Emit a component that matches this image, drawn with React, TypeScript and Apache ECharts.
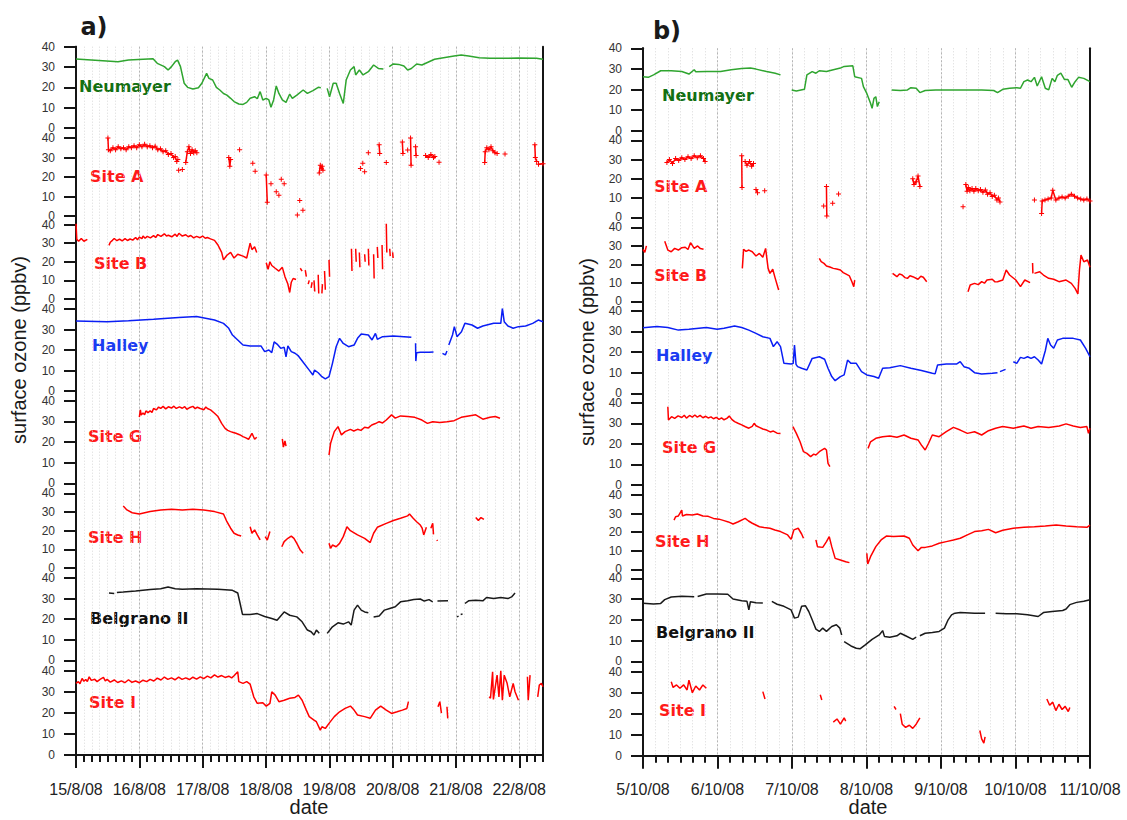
import { useEffect, useRef } from "react";
import * as echarts from "echarts";

type Pt = number[] | null;

// ---------- Panel a) : hours since 15/8/08 00:00 ----------
const A_MAX_H = 177;
const A_STEP_H = 3;
const A_DAY_LABELS = ["15/8/08", "16/8/08", "17/8/08", "18/8/08", "19/8/08", "20/8/08", "21/8/08", "22/8/08"];

const aNeumayer: Pt[] = [[0,33.9],[15.9,32.6],[19.9,33.4],[29.2,34.1],[30.8,31.8],[33.5,30.2],[34.9,28.5],[36.2,30.2],[37.6,32.6],[38.5,33.4],[39.6,30.2],[41,22],[42.3,20],[44.3,19.2],[46.4,19.8],[47.7,22],[49.5,26.9],[50.4,24.4],[51.8,23.6],[53.2,20],[54.5,18.7],[55.9,17],[57.2,16.2],[58.6,14.6],[59.9,13],[61.7,11.8],[63.3,11.6],[64.7,12.6],[66,14.6],[67.7,15.4],[68.7,14.4],[69.8,17.9],[70.8,13.8],[72.1,14.6],[73.1,13.8],[73.9,10.2],[74.9,13.8],[75.9,20.7],[76.9,17],[78.2,13.8],[79.6,12.6],[81,16.7],[82,14.6],[83.7,16.2],[86.1,18.7],[87.7,17],[89.8,18.4],[91.8,20],[92.8,19.8],null,[95.2,19.5],[96.1,15.4],[97.5,22],[98.6,22],[99.9,17],[101.3,12.1],[102.4,23.6],[104,28.5],[105.4,30.2],[106,26.1],[107.4,28.5],[108.8,26.1],[110.8,27.7],[112.8,31],[114.6,29.3],[116.5,29],null,[118.7,30.2],[120.3,31.5],[122.3,31.3],[124.3,30.5],[125.7,28.5],[127.1,29.3],[129.1,31.5],[131.1,31],[133.8,32.6],[135.9,33.8],[139.3,34.6],[143.3,35.4],[146,35.9],[148.8,35.4],[152.8,34.6],[156.9,34.3],[161,34.3],[167.7,34.4],[174.5,34.3],[177,33.8]];

const aSiteA: Pt[] = [[12.1,40],[12.3,34],[13,33.5],[14,35],[15,34],[16,35.5],[17,34.5],[18,35],[19,34],[20,35.5],[21,35],[22,36],[23,35],[24,36.5],[25,35.5],[26,36.8],[27,35.5],[28,36],[29,35],[30,35.8],[31,34],[32,34.5],[33,33],[34,33.5],[35,31.5],[36,32],[37,30],[37.6,30.5],[38.2,28],[38.6,29],null,[38.9,23.5],null,[40.3,23.8],null,[41.6,27.5],[42.2,33],[42.8,35.5],[43.4,32],[44,34],[44.6,32.5],[45.2,33.5],[45.8,32.5],null,[57.9,30],[58.3,25.5],[58.6,29],null,[62,34],null,[67,27.1],null,[67.9,23],null,[72.1,21],[72.5,7],null,[73.9,16.6],null,[75.9,12.5],null,[76.9,10.6],null,[77.8,18.9],null,[78.9,16.6],null,[83.9,0.5],null,[84.8,8],null,[86,2.9],null,[92.2,22],[92.6,26],[93,24.5],[93.3,25.5],[93.6,23.5],null,[107.8,24.4],null,[108.7,27],null,[109.4,22.7],null,[110.8,32.5],null,[114.9,36.5],[115.1,32],null,[117.6,27.5],null,[123.7,38],[123.9,32],null,[125.7,33.8],null,[126.8,40],[127,26],null,[128.7,35.5],[128.9,31],null,[132.5,31],[133.5,30],[134.5,31.5],[135.5,30],[136,30.5],null,[137.6,27.6],null,[154.9,27.5],[155.1,33],[155.7,35],[156.5,34],[157.3,35.5],[158,33.5],[158.8,32.5],[159.6,32],null,[162.6,31.8],null,[173.9,36.5],[174.1,30],[174.6,28],null,[175.3,26.5],[177,26.8]];

const aSiteB: Pt[] = [[0,41],[0.3,32],[1,31],[2,32.5],[3,31],[4.3,32],null,[12.5,28.8],[13,30.5],[13.8,31.5],[14.5,32.5],[15.5,31.3],[16.5,32.2],[17.5,31.2],[18.6,32.4],[19.5,31.4],[20.5,32.2],[21.5,31.6],[22.6,33],[23.3,31.8],[24,33.2],[25,32.4],[25.4,33.8],[26.2,32.6],[27,33.6],[28.2,32.8],[29.4,34],[30.2,33],[31,34.6],[32.2,33.6],[33.5,35],[34.3,33.8],[35,34.2],[36.3,33.4],[37.6,34.8],[38.3,33.6],[39,35.3],[40.3,33.8],[41.6,34.5],[42.5,33.4],[43.5,34.1],[44.6,32.8],[45.7,33.6],[47,32.9],[48,33.8],[49,32.6],[49.8,33],[51,32.3],[52.5,31.5],[53.8,29],[55.2,25],[55.9,21],[57.2,23.5],[58.6,25],[59.9,22],[61.3,24],[63.3,23],[64.7,22],[66,30],[66.7,26.5],[67.7,28],[68.5,25],null,[72.1,19.5],[72.8,16],[73.5,20],[74.2,18],[75.5,16.5],[76.9,15],[78.2,17],[79.2,12],[80.3,8],[81,3.5],[81.6,9],[82.3,11],[83.4,10.5],null,[85,16.5],[85.7,15],null,[86.9,15.5],[87.3,12],null,[88,8],[88.4,10],null,[89.1,6],[89.5,9],null,[90.2,10],[90.5,4],null,[91.8,13],[92,3],null,[93.2,3],[93.4,8],null,[94.2,15],[94.5,5],null,[95.9,21],[96.1,12],null,[104.4,27],[104.6,15],null,[106,27],[106.2,20],null,[107.4,25],[107.6,17],null,[109.4,24],[109.6,20],null,[110.8,27],[111,18],null,[112.8,24],[113,11],null,[114.2,28],[114.4,22],null,[116,29],[116.2,16],null,[117.6,41],[117.8,25],null,[118.9,27],[119.1,23],null,[120,25],[120.2,22]];

const aHalley: Pt[] = [[0,34.1],[11.8,33.8],[19.9,34.3],[29.4,35],[38.9,35.9],[45.7,36.3],[52.5,34.6],[55.9,33],[57.9,30.6],[59.3,27.3],[61.3,24.9],[63.3,22.4],[66,22],[70.1,22],[71.5,19.2],[73.1,20],[74.2,18.7],[75.1,24],[76.2,22.9],[77.6,20.8],[78.9,21.3],[79.6,16.7],[80.3,22],[81.6,19.2],[83,18.4],[84.3,17.1],[86.4,13.5],[88.4,10.2],[89.8,7.8],[90.4,10.2],[91.8,8.9],[93.2,7],[94.5,5.9],[95.9,7],[97.2,13.5],[98.6,21.6],[99.9,25.7],[101.3,23.2],[103.3,21.6],[105.4,22.4],[106.7,25.7],[108.1,27.8],[110.8,27.3],[112.2,24.9],[113.5,28.1],[114.2,25.2],[116.2,26.5],[120.3,26.8],[124.3,26.5],[127.1,26.2],null,[128.1,29.8],[128.2,29.5],null,[128.7,23.3],[128.8,14.6],[129.1,18.7],[130.5,18.9],[133.8,18.9],[135.5,19],null,[138.9,18.4],[140,17.6],[140.6,19.5],null,[141.3,22.4],[142.7,27.3],[143.4,31.4],[144.4,26.5],[146.1,28.9],[147.4,33],[150.1,32.2],[152.2,30.6],[154.2,31.7],[158.3,33],[161,33],[161.6,40.3],[162.3,33.8],[163.7,31.7],[165.7,30.6],[167.7,31.4],[170.4,31.7],[173.1,33],[175.2,34.6],[177,33.8]];

const aSiteG: Pt[] = [[24,32],[24.4,35.5],[24.7,33],[25.4,34],[26,33.2],[26.5,35],[27.3,34.2],[28.1,35],[28.8,34.3],[29.4,36.2],[30.5,35.5],[31.3,36.9],[32.1,36.2],[33,37.2],[34,36],[35,37],[36.2,36.4],[37.1,37.3],[38,36.2],[39.2,37],[40.3,36.3],[41.2,37.1],[42,35.8],[43.2,36.7],[44.3,37.2],[45.2,36.1],[46,36.8],[47.1,36.2],[48.5,35.6],[49.2,36.9],[49.8,36.2],[51,35.5],[52.5,33.9],[53.8,32.3],[55.2,29],[56.5,26.6],[57.5,25.6],[58.6,25],[59.6,24.6],[60.6,24.2],[62,23.5],[63.3,22.6],[64.4,22],[65.4,21.3],[66.7,24.2],[67.7,21.3],[68.5,22.3],null,[78.2,21.5],[78.6,17.5],[79.2,20.5],[79.6,18],null,[95.9,13.7],[96.5,19.4],[97.9,25],[99.3,27.4],[100.6,23.4],[102,25],[104,26.1],[105.3,25.3],[106.7,26.1],[108,25.6],[109.4,27.1],[110.8,26.8],[112.1,28.2],[113.5,28.9],[114.9,29.8],[116.2,29.2],[117.6,30.6],[119.6,33.1],[121,31.5],[123,32.6],[125.7,32.3],[128.4,31.9],[131.1,30.6],[133.2,29],[135.2,29.8],[137.9,29.4],[140.6,29.8],[143.3,30.3],[146,31.9],[148.8,32.6],[151.5,33.1],[154.2,31],[156.9,31.9],[158.9,32.3],[160.7,31.5]];

const aSiteH: Pt[] = [[17.9,33.2],[19.3,31.1],[21.3,29.6],[24,28.9],[28.1,30.2],[32.1,31.1],[36.2,31.4],[40.3,31.1],[44.3,31.4],[48.4,31.1],[52.5,30.2],[55.9,28.9],[57.2,24.8],[58.6,21.3],[59.9,18.6],[61.3,17.7],[62.6,17.1],null,[66,22.1],[66.7,18.6],[67.7,20.4],[68.7,17.7],[69.8,15],null,[71.7,16.8],[72.5,15],[73.5,19.5],null,[78,11.4],[78.9,14.1],[80.3,15.9],[81.6,17.1],[82.6,15.9],[83.7,13.2],[85,9.6],[86.1,7.9],null,[95.9,13.2],[96.5,10.5],[97.2,12.3],[98.6,11.4],[99.9,13.2],[101.3,16.8],[102.7,22.1],[104,20],[106.7,17.7],[109.4,15.9],[111.5,13.6],[112.8,18.6],[114.2,21.8],[117.6,23.9],[120.3,25.4],[123,26.6],[125.7,27.9],[126.4,28.9],[127.8,26.6],[129.1,24.8],[130.5,23],[131.2,21.3],[131.8,17.7],[132.8,21.8],null,[134.5,21.3],[135.2,23.9],[135.5,18],null,[136.8,15],[137,14.5],null,[151.5,27],[152.5,25.5],[153.5,27],[154.6,26]];

const aBelgrano: Pt[] = [[12.5,32.7],[14.5,32.5],null,[15.5,33],[17.9,33.2],[22.6,33.7],[28.1,34.4],[32.1,34.8],[34.9,35.6],[37.6,34.8],[40.3,34.5],[45.7,34.8],[49.8,34.7],[53.8,34.5],[59.3,34],[61.3,32.7],[62.2,27.6],[63.1,22.3],[66,22.3],[68.7,22.7],[71.5,21.3],[74.2,20.3],[76.2,19.5],[78.9,23.5],[81,21.9],[83.7,21.1],[85.7,18.7],[87.7,14.7],[89.1,13.9],[90.2,12.3],[91.1,14.7],[92.2,13.1],null,[95.2,13.1],[97.2,16.3],[99.3,18.2],[101.3,17.6],[103.3,18.7],[104.3,17.1],[105.4,24.4],[106.7,26.8],[108.1,24.4],[109.4,23.5],[110.8,23.1],null,[112.8,21.1],[114.9,21.5],[116.9,24.4],[118.9,25.2],[121,26],[123,28.4],[125.7,28.9],[128,29.5],[130.5,29.8],[132,28.8],[133.8,29.5],[135.2,28.4],null,[137,28.8],[141,28.9],null,[144.4,21.1],[145,21.5],null,[145.8,22.3],[146.5,22.5],null,[147.4,27.6],[148.8,28.9],[151.5,29.2],[154.2,28.9],[155.6,30.5],[158.3,30],[161,30.5],[163.7,30],[165.1,30.8],[166.4,32.7]];

const aSiteI: Pt[] = [[0,34],[0.9,34.8],[1.5,33.8],[2.3,36.3],[3,35],[3.7,35.8],[4.3,34.9],[5,37.1],[5.8,35.4],[7.1,35.9],[8,34.8],[9.1,35.9],[10.4,36.8],[11.1,35.2],[11.8,35.9],[13,34.6],[14.5,35.6],[15.8,34.4],[17.2,35.2],[18.5,34.3],[19.9,35.7],[21.2,34.5],[22.6,35.1],[24,34.3],[25.4,35.5],[26.8,34.8],[28.1,35.9],[29.5,35.1],[30.8,36.5],[32.2,35.6],[33.5,37],[34.8,35.9],[36.2,36.6],[37.5,35.7],[38.9,36.9],[40.2,35.9],[41.6,36.6],[43,35.8],[44.3,36.9],[45.7,36],[47.1,37.1],[48.4,36.2],[49.8,37.4],[51.1,36.6],[52.5,38],[53.8,37],[55.2,37.7],[56.5,36.8],[57.9,37.4],[59,36.6],[59.9,37.6],[61.3,39.5],[61.7,34.8],[63.3,34],[64.7,34.8],[66,33.6],[67.4,27.5],[68.7,24.5],[70.8,24.8],[72.1,23.2],[73.5,24.5],[74.2,30],[75.5,28.4],[76.9,25.3],[78.9,26],[81,26.9],[83,27.3],[84.3,28.4],[85.7,26],[87.3,21.3],[88.4,18.2],[90.2,16.6],[91.1,15.8],[92.6,11.8],[93.2,13.4],[94.5,12.6],[95.9,15],[97.9,18.2],[99.9,20.5],[102,22.1],[104,23.2],[105.4,21.3],[106.7,19],[109.4,18.2],[111.5,17.4],[113.5,21.3],[115.5,23.2],[117.6,21.3],[119.6,19.7],[121.7,20.5],[123.7,21.3],[125.4,22.1],[126,25.3],null,[137.2,22.9],[137.9,25.3],[138.5,19.9],null,[140.6,22.9],[140.9,17.4],null,[156.6,27.6],[157.1,26.9],[157.9,39.5],[158.2,26.4],[159.6,37.9],[160.3,27.6],[161,40],[161.6,26],[162.3,37.9],[163.4,34],[164.4,27.6],[165.7,34],[166.4,30],[167.7,26],null,[171.1,37.1],[171.4,26],[172.1,37.9],null,[175,27.6],[175.6,33.2],[176.4,34],[177,32.4]];

// ---------- Panel b) : hours since 5/10/08 00:00 ----------
const B_MAX_H = 144;
const B_STEP_H = 4;
const B_DAY_LABELS = ["5/10/08", "6/10/08", "7/10/08", "8/10/08", "9/10/08", "10/10/08", "11/10/08"];

const bNeumayer: Pt[] = [[0,26.2],[1.7,25.9],[3.4,27.1],[5.7,29.1],[9.1,29.1],[12.5,28.7],[14.8,27.5],[16.5,29.6],[17,28.6],[20.4,28.7],[25,28.7],[28.4,29.6],[31.8,30.2],[34.6,30.4],[36.4,29.9],[39.8,28.7],[42.6,27.9],[44.3,27.1],null,[47.9,19.8],[49.4,19.3],[52,20.1],[52.8,27.1],[54.5,28.7],[55.7,27.9],[56.8,29.1],[59.1,28.7],[61.3,29.6],[63.6,30.4],[64.8,31.2],[67.6,31.5],[68.2,26.2],[70.4,25.4],[71,21.4],[72.1,18.1],[73.3,13.3],[73.8,10.9],[74.4,15.7],[75,16.5],[75.5,11.7],[76.1,14.1],null,[80.1,19.8],[82.9,19.5],[85.2,19.8],[86.3,20.9],[88,20.6],[89.2,18.5],[90.9,19.5],[94.3,19.8],[102.2,19.8],[109.1,19.8],[113,19.5],[114.2,18.5],[115.9,20.1],[118.1,20.6],[120.4,20.9],[121.6,20.6],[122.7,23.8],[123.9,24.6],[125,23.8],[126.1,25.9],[127,21.7],[128.4,26.2],[129.6,20.6],[130.7,19.8],[131.8,25.4],[132.7,23.8],[133.5,26.9],[134.6,27.9],[135.8,24.8],[136.9,24.8],[138.1,21.1],[139.2,23.8],[140.3,25.9],[142,25.4],[144,23.8]];

const bSiteA: Pt[] = [[7.7,28.5],[8.5,30],[9.5,28],[10.5,30.5],[11.5,29.5],[12.5,31],[13.5,30],[14.5,31.5],[15.5,30.5],[16.5,32],[17.5,31],[18.5,32],[19.5,30.5],[20,29],null,[31.8,32],[31.9,15.5],null,[32.9,29],[33.5,27],[34.3,29],[35,26.5],[35.6,28],null,[36.4,14.5],[36.9,12.8],null,[39.2,13.8],null,[58.2,5.9],null,[59.1,16],[59.2,0.7],null,[61.1,7.3],null,[63,12.1],null,[86.9,20],[87.3,17],[88,18.5],[88.6,21.5],[89.2,16],null,[103.1,5.5],null,[104,17],[104.4,13.5],[104.8,15.5],[105.3,13.8],[106,15],[106.6,13.5],[107.2,15],[108,13.8],[108.7,14.5],[109.5,13],[110.3,14.2],[111,12],[111.8,12.8],[112.5,10.8],[113.2,11.5],[114,9],[114.5,10],[115,8],null,[126.1,9],null,[128.4,2],[128.6,8.5],[129.5,9],[130.5,9.5],[131.5,10],[132,14],[133,9],[134,10],[135,10.5],[136,10],[137,11],[138,12],[139,11],[140,10],[141,9.5],[142,9],[143,9.5],[144,8.5]];

const bSiteB: Pt[] = [[0,28],[0.6,26.5],[1.1,30],null,[7,32.4],[8,27.7],[9.1,26.8],[10.2,28.6],[11.4,27.7],[12.5,29],[13.6,29.2],[14.5,28],[15.3,31.7],[16.5,28.6],[17.6,29.9],[18.5,28.5],[19.5,28.1],null,[32,17.8],[32.4,28.1],[33.2,27],[34.1,27.7],[35.2,26.8],[36.4,24.5],[37.5,25.9],[38.6,23.8],[39.5,28.6],[40.3,17.8],[40.9,15.1],[41.8,17.3],[42.6,12.4],[43.7,6.1],null,[56.8,23.2],[57.4,21.4],[58.3,20.5],[59.1,19.1],[60.2,18.5],[61.3,17.8],[62.4,17.5],[63.6,16.9],[64.5,15.5],[65.3,14.8],[66.5,13.7],[67.3,10.6],[67.9,7.9],[68.2,11.5],null,[80.4,15.1],[81.8,13.3],[82.6,14.8],[83.5,14.2],[84.4,12.8],[85.2,12.4],[86,13.8],[86.9,13.3],[88.6,11.9],[89.5,13.5],[90.3,13],[91.4,10.6],null,[104.7,5.2],[105.4,8.8],[106.8,9.7],[108,9],[109.1,10.6],[110,9.8],[110.8,11.5],[112.5,11.9],[113.4,10.5],[114.2,10.6],[115.9,11.5],[117,16.9],[118.1,14.2],[120.1,11.5],[121.6,7.9],[123,11.5],[124.7,10.1],null,[125.5,20.7],[125.6,15.1],null,[126.1,15.1],[127.8,16],[129,14.2],[130.7,12.4],[132.3,11.9],[134,10.6],[136.3,11.5],[138,9.7],[139.2,7],[140.1,4],[140.6,16.9],[141.1,25],[142,21.4],[143.2,22.3],[144,18.4]];

const bHalley: Pt[] = [[0,31.8],[4.5,32.3],[8,31.9],[11.4,30.6],[14.8,31],[20.4,31.9],[23.9,31],[26.1,31.5],[29.5,32.6],[31.8,31.9],[34.1,30.6],[36.4,29],[38.6,27.4],[40.9,26.6],[42,22.6],[43.2,25],[44.3,22.6],[45.4,14.5],[47.7,14.2],[48.4,14.5],[48.8,23.4],[49.3,14],[49.8,12.9],[51.1,12.1],[52.8,11.3],[54.5,16.9],[56.8,17.7],[58.5,16.5],[59.6,12.1],[60.8,8.1],[61.9,6.1],[63.6,8.1],[64.8,8.9],[65.9,16.1],[67,14.5],[68.7,14.5],[70.4,10.5],[72.1,8.9],[74.4,8.1],[75.9,7.3],[77.2,12.1],[79.5,12.4],[82.9,13.4],[86.3,12.1],[89.7,11],[93.2,9.7],[94.1,9.4],[94.9,13.7],[97.7,14.2],[101.1,14.2],[102.2,15.3],[103.4,12.9],[105.1,12.1],[106.8,10],[109.1,9.4],[112.5,9.7],[114.2,10],null,[115,10.5],[116.8,11.6],null,[119.3,15.3],[120.4,14.5],[121.6,17.4],[122.7,16.9],[123.9,17.7],[125,16.9],[126.1,17.7],[127.3,16.1],[128.4,14.2],[129.6,20.6],[130.4,26.6],[131.3,23.4],[132.3,21.8],[133.5,25.8],[135.2,26.6],[138.6,26.6],[140.9,25.8],[142.6,21.8],[144,17.7]];

const bSiteG: Pt[] = [[8,38],[8.2,31.6],[9.2,33.2],[10.2,32.4],[11.3,33.6],[12.5,32.8],[13.3,33.9],[14,32.5],[15,33.8],[15.9,33],[16.7,34],[17.5,33],[18.4,33.8],[19.3,32.7],[20.2,33.4],[21,32.6],[21.9,33.1],[22.7,32.2],[23.6,32.9],[24.5,31.9],[25.3,32.6],[26.1,31.7],[27,32.4],[27.8,33.5],[28.6,31.9],[29.5,30.8],[30.6,30],[31.8,29.2],[33,28.3],[34.1,27.6],[35.2,28.5],[35.8,30],[36.4,28.8],[37.5,28],[38.6,27.2],[39.8,26.7],[41,25.8],[42,26.2],[43.2,25.2],[44.3,25],null,[48.3,28.4],[49.4,25.1],[50.6,21],[51.7,16.2],[52.8,15.4],[54,13.8],[55,15],[55.7,14.6],[56.8,16.2],[58.5,17.8],[59.1,17],[59.6,10.5],[60.2,8.9],null,[72.5,17.8],[73.3,21],[75,22.7],[77.2,23.5],[79.5,23.8],[81.8,23.2],[84.1,24.3],[86.3,22.7],[88.6,21.9],[89.7,19.4],[90.9,17],[92,20.3],[93.2,24.3],[95.4,23.5],[97.7,25.9],[100,28],[102.2,26.7],[104.5,25.1],[106.8,25.9],[109.1,24.3],[111.3,26.4],[113.6,27.6],[115.9,28.4],[119.3,27.6],[122.7,28.7],[125,27.6],[127.3,28.4],[130.7,28],[134.1,28.7],[136.3,29.7],[138.6,28.7],[140.9,28],[143,28.4],[143.5,25.1],[144,27.6]];

const bSiteH: Pt[] = [[10,26.5],[10.5,28.3],[11.4,28.7],[12.5,31.9],[12.7,28.7],[14,29.5],[15.9,29.2],[17.5,29.8],[19.3,28.7],[21,28.5],[22.7,27.4],[24.5,27],[26.1,26.2],[27.5,25.5],[29,24.4],[30.7,25.6],[32.9,27.4],[34,26],[35.2,24.8],[37.5,22.9],[39,22.5],[40.9,22.1],[42.5,21.2],[44.3,20.3],[46.6,18.5],[47.7,16.1],[48.6,21.2],[50,22.1],[51.1,19],[51.7,16.7],null,[55.7,15.8],[56.2,12.2],[57.9,11.8],[59.1,14.9],[60,17.6],[60.8,12.2],[61.9,5.9],[63.6,5],[65.3,4.1],[66.5,3.6],null,[72.1,8.6],[72.4,2.9],[73.3,6.8],[75,12.2],[76.7,15.8],[78.4,17.9],[80.7,17.6],[84.1,17.9],[85.8,16.7],[86.9,13.1],[88.6,10],[89.7,11.8],[90.9,11.8],[93.2,12.6],[95.4,14],[97.7,14.9],[100,15.8],[102.2,16.7],[104.5,18.5],[106.8,20.3],[109.1,20.8],[111.3,21.5],[113.6,19.7],[115.9,21],[119.3,22.1],[122.7,22.6],[126.1,22.9],[129.6,23.3],[133.1,23.8],[136.3,23.3],[139.7,22.9],[143,22.6],[144,23.8]];

const bBelgrano: Pt[] = [[0,28],[3.4,27.6],[5.7,27.9],[7,29.7],[9.1,31],[12.5,31.3],[16.5,31.1],null,[17.6,31.2],[20.4,32.4],[23.9,32.4],[27.3,32.3],[29,30],[31.8,29.2],[33.5,28.9],[34.1,24.8],[34.6,28.7],[36.4,28.2],[38.6,28.1],null,[41.5,28.9],[43.2,27.5],[45.4,26.5],[47.7,24.8],[48.8,20.8],[50,21.3],[51.1,26.5],[52.3,26.8],[53.4,24],[54.5,20],[55.7,15.5],[56.8,14.4],[57.9,16],[59.1,14.4],[60.8,16.8],[62.3,17.6],[63.4,16],[64,12.7],null,[64.8,9.5],[67,7.4],[68.7,6.3],[69.9,6],[71.6,7.9],[73.8,10.6],[76.1,12.7],[77.2,14.8],[77.8,11.9],[79.5,11.6],[81.8,12.3],[82.9,13.5],[84.6,12.3],[86.9,10.6],[88,11.6],null,[89.2,12.3],[90.9,13.5],[93.2,13.9],[95.4,14.4],[97.1,16],[98.3,20],[99.4,22.4],[100.5,23.2],[102.2,23.5],[106.8,23.2],[110.2,23.2],null,[113.6,23.2],[117,22.9],[120.4,22.9],[123.9,22.4],[127.3,21.6],[129,23.5],[131.8,24],[135.2,24.5],[136.3,25.2],[137.5,27.3],[139.7,28.4],[142,28.9],[144,29.7]];

const bSiteI: Pt[] = [[9.1,35.2],[9.7,32.5],[10.8,33.7],[11.9,32.1],[13.1,33.7],[14.2,31.3],[14.8,36],[15.9,30],[17,33.2],[18.2,31.3],[19.3,33.7],[20.4,32.1],null,[38.6,30.5],[39.3,27],null,[57.1,29],[57.6,26.5],null,[61.3,16],[62.5,17.5],[63.6,15],[64.8,18],[65.3,16.5],null,[80.9,23.5],[81.5,22],null,[82.9,20],[83.5,15],[84.6,13.5],[85.8,14.5],[86.9,13],[88,15],[89.2,18],null,[108.5,12],[109.1,8],[109.8,6],[110.2,9],null,[130.1,27],[131,24],[132,25.5],[133,21.5],[134,24.5],[135,22],[136,23.5],[137,21],[137.5,23]];

const STATIONS = ["Neumayer", "Site A", "Site B", "Halley", "Site G", "Site H", "Belgrano II", "Site I"];
const Y_MIN = 0;
const Y_MAX = 40;
const Y_STEP = 10;

// ---------- styling / layout ----------
const LINE_COLORS = ["#2fa52f", "#ff0000", "#ff0000", "#0a1ef5", "#ff0000", "#ff0000", "#1a1a1a", "#ff0000"];
const LABEL_COLORS = ["#137013", "#ff1a1a", "#ff1a1a", "#1a3cf2", "#ff1a1a", "#ff1a1a", "#111111", "#ff1a1a"];
const FONT = '"Liberation Sans", Arial, sans-serif';
const BOLD_FONT = '"DejaVu Sans", Verdana, sans-serif';
const PLUS = "path://M2,0H3V2H5V3H3V5H2V3H0V2H2Z";

const ROWS_A = [[46.7, 128], [138, 216], [224.5, 299], [309, 391], [400.6, 483.3], [493.3, 568], [578, 660.3], [670.7, 755]];
const ROWS_B = [[48.3, 130.7], [140.3, 217.3], [227.3, 301.3], [310.7, 393.3], [402.7, 485], [495, 569.3], [578.3, 661.3], [671.7, 755.7]];
const LABELS_A = [[79, 86], [90, 176], [94, 263], [92, 345], [88, 436], [88, 537], [90, 618], [89, 702]];
const LABELS_B = [[662, 95], [654, 186], [654, 275], [656, 355], [662, 447], [655, 541], [656, 632], [659, 710]];

function buildOption() {
  const grid: any[] = [];
  const xAxis: any[] = [];
  const yAxis: any[] = [];
  const series: any[] = [];
  const graphic: any[] = [];

  const addPanel = (cfg: any) => {
    const { left, width, rows, maxH, stepH, dayLabels, data, labels } = cfg;
    const top = rows[0][0];
    const bottom = rows[rows.length - 1][1];
    const axisCol = "#151515";

    const gBg = grid.length;
    grid.push({ left, top, width, height: bottom - top });
    xAxis.push({
      type: "value", gridIndex: gBg, min: 0, max: maxH, interval: stepH, position: "bottom", offset: 6,
      axisLine: { show: true, lineStyle: { color: axisCol, width: 2 } },
      axisTick: { show: true, length: 7, lineStyle: { color: axisCol, width: 2 } },
      axisLabel: {
        show: true, interval: 0, margin: 20, fontSize: 16, color: "#222", fontFamily: FONT,
        formatter: (v: number) => (v % 24 === 0 ? dayLabels[v / 24] ?? "" : ""),
      },
      splitLine: { show: true, lineStyle: { color: "#d9d9d9", type: [1, 2], width: 1 } },
    });
    yAxis.push({
      type: "value", gridIndex: gBg, min: 0, max: 1, position: "left",
      axisLine: { show: true, lineStyle: { color: axisCol, width: 2 } },
      axisTick: { show: false }, axisLabel: { show: false }, splitLine: { show: false },
    });
    yAxis.push({
      type: "value", gridIndex: gBg, min: 0, max: 1, position: "right",
      axisLine: { show: true, lineStyle: { color: axisCol, width: 2 } },
      axisTick: { show: false }, axisLabel: { show: false }, splitLine: { show: false },
    });

    const dayMax = Math.floor(maxH / 24) * 24;
    const gDay = grid.length;
    grid.push({ left, top, width: (width * dayMax) / maxH, height: bottom - top });
    xAxis.push({
      type: "value", gridIndex: gDay, min: 0, max: dayMax, interval: 24, position: "bottom", offset: 6,
      axisLine: { show: false },
      axisTick: { show: true, length: 13, lineStyle: { color: axisCol, width: 2 } },
      axisLabel: { show: false },
      splitLine: { show: true, lineStyle: { color: "#b5b5b5", type: [2, 2], width: 1 } },
    });
    yAxis.push({ type: "value", gridIndex: gDay, min: 0, max: 1, show: false });

    rows.forEach((r: number[], i: number) => {
      const g = grid.length;
      grid.push({ left, top: r[0], width, height: r[1] - r[0] });
      const xi = xAxis.length;
      xAxis.push({ type: "value", gridIndex: g, min: 0, max: maxH, show: false });
      const yi = yAxis.length;
      yAxis.push({
        type: "value", gridIndex: g, min: Y_MIN, max: Y_MAX, interval: Y_STEP,
        axisLine: { show: true, lineStyle: { color: axisCol, width: 2 } },
        axisTick: { show: true, length: 12, lineStyle: { color: axisCol, width: 2 } },
        axisLabel: { margin: 21, fontSize: 12, color: "#333", fontFamily: FONT },
        splitLine: { show: false },
      });
      const isSiteA = STATIONS[i] === "Site A";
      series.push({
        type: "line", name: STATIONS[i], xAxisIndex: xi, yAxisIndex: yi,
        data: data[i].map((p: Pt) => (p ? p : [NaN, NaN])),
        connectNulls: false, silent: true, clip: true,
        showSymbol: isSiteA, showAllSymbol: true,
        symbol: isSiteA ? PLUS : "none", symbolSize: 5,
        itemStyle: { color: LINE_COLORS[i] },
        lineStyle: { color: LINE_COLORS[i], width: 1.5 },
      });
      graphic.push({
        type: "text", x: labels[i][0], y: labels[i][1], silent: true,
        style: {
          text: STATIONS[i], fill: LABEL_COLORS[i], font: `bold 16px ${BOLD_FONT}`,
          textAlign: "left", textVerticalAlign: "middle", align: "left", verticalAlign: "middle",
        },
      });
    });
  };

  addPanel({
    left: 76, width: 467, rows: ROWS_A, maxH: A_MAX_H, stepH: A_STEP_H, dayLabels: A_DAY_LABELS,
    data: [aNeumayer, aSiteA, aSiteB, aHalley, aSiteG, aSiteH, aBelgrano, aSiteI], labels: LABELS_A,
  });
  addPanel({
    left: 643, width: 447, rows: ROWS_B, maxH: B_MAX_H, stepH: B_STEP_H, dayLabels: B_DAY_LABELS,
    data: [bNeumayer, bSiteA, bSiteB, bHalley, bSiteG, bSiteH, bBelgrano, bSiteI], labels: LABELS_B,
  });

  const txt = (text: string, x: number, y: number, font: string, rotation = 0) => ({
    type: "text", x, y, rotation, silent: true,
    style: { text, fill: "#1a1a1a", font, textAlign: "center", textVerticalAlign: "middle", align: "center", verticalAlign: "middle" },
  });
  graphic.push(txt("a)", 94, 27, `bold 24px ${BOLD_FONT}`));
  graphic.push(txt("b)", 667, 31, `bold 24px ${BOLD_FONT}`));
  graphic.push(txt("surface ozone (ppbv)", 19, 350, `20px ${FONT}`, Math.PI / 2));
  graphic.push(txt("surface ozone (ppbv)", 587, 352, `20px ${FONT}`, Math.PI / 2));
  graphic.push(txt("date", 309, 807, `20px ${FONT}`));
  graphic.push(txt("date", 868, 807, `20px ${FONT}`));

  return { animation: false, backgroundColor: "#ffffff", grid, xAxis, yAxis, series, graphic };
}

export default function App() {
  const ref = useRef<HTMLDivElement>(null);
  useEffect(() => {
    if (!ref.current) return;
    const chart = echarts.init(ref.current, undefined, { renderer: "svg" });
    chart.setOption(buildOption() as any);
    return () => chart.dispose();
  }, []);
  return <div ref={ref} style={{ position: "fixed", left: 0, top: 0, width: 1127, height: 820, background: "#fff" }} />;
}
